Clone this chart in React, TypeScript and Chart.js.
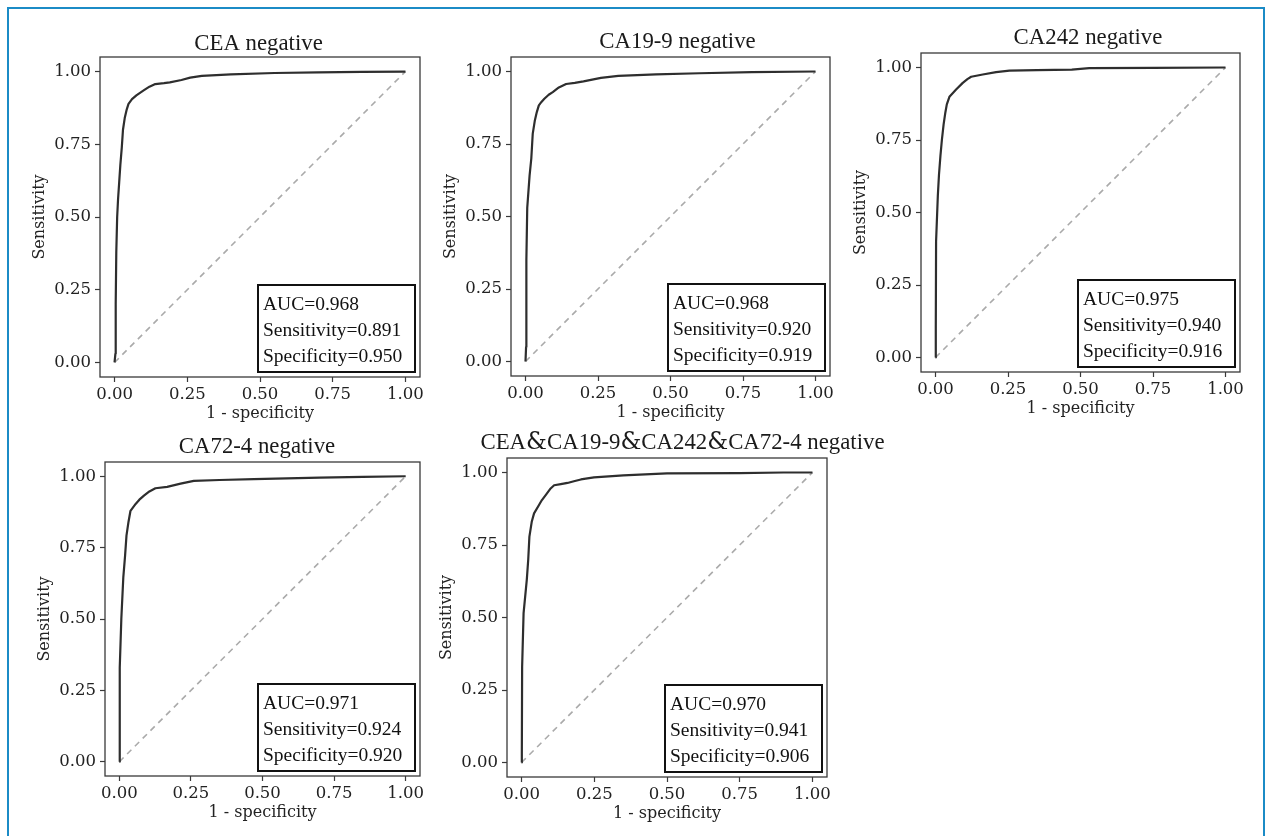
import React, { useEffect, useRef } from 'react';
import { Chart, registerables } from 'chart.js';

Chart.register(...registerables);

// ---------- data ----------
const tickValues = [0, 0.25, 0.5, 0.75, 1];
const titles = [
  'CEA negative',
  'CA19-9 negative',
  'CA242 negative',
  'CA72-4 negative',
  'CEA&CA19-9&CA242&CA72-4 negative',
];
const aucValues = [0.968, 0.968, 0.975, 0.971, 0.97];
const sensValues = [0.891, 0.92, 0.94, 0.924, 0.941];
const specValues = [0.95, 0.919, 0.916, 0.92, 0.906];

const ceaFpr = [0, 0.003, 0.004, 0.006, 0.009, 0.012, 0.016, 0.02, 0.025, 0.029, 0.035, 0.042, 0.048, 0.06, 0.075, 0.1, 0.12, 0.14, 0.17, 0.19, 0.23, 0.26, 0.3, 0.4, 0.55, 0.7, 0.85, 1];
const ceaTpr = [0, 0.03, 0.2, 0.38, 0.5, 0.56, 0.62, 0.68, 0.74, 0.8, 0.84, 0.87, 0.889, 0.905, 0.918, 0.935, 0.948, 0.957, 0.96, 0.963, 0.971, 0.979, 0.985, 0.99, 0.995, 0.997, 0.999, 1];

const ca199Fpr = [0, 0.002, 0.003, 0.006, 0.014, 0.02, 0.025, 0.032, 0.039, 0.046, 0.055, 0.065, 0.08, 0.094, 0.115, 0.14, 0.17, 0.2, 0.23, 0.26, 0.32, 0.45, 0.6, 0.78, 1];
const ca199Tpr = [0, 0.05, 0.35, 0.53, 0.64, 0.7, 0.786, 0.83, 0.86, 0.883, 0.895, 0.906, 0.92, 0.929, 0.945, 0.957, 0.961, 0.966, 0.972, 0.978, 0.985, 0.99, 0.994, 0.998, 1];

const ca242Fpr = [0, 0.001, 0.001, 0.002, 0.008, 0.012, 0.017, 0.022, 0.028, 0.034, 0.039, 0.048, 0.06, 0.071, 0.094, 0.11, 0.123, 0.163, 0.209, 0.255, 0.35, 0.47, 0.53, 0.75, 1];
const ca242Tpr = [0, 0.02, 0.1, 0.4, 0.557, 0.63, 0.695, 0.75, 0.804, 0.845, 0.873, 0.899, 0.912, 0.924, 0.947, 0.96, 0.968, 0.976, 0.984, 0.989, 0.991, 0.993, 0.998, 0.999, 1];

const ca724Fpr = [0, 0.001, 0.002, 0.007, 0.014, 0.02, 0.025, 0.032, 0.039, 0.057, 0.07, 0.086, 0.105, 0.126, 0.167, 0.214, 0.26, 0.35, 0.47, 0.7, 0.85, 1];
const ca724Tpr = [0, 0.03, 0.33, 0.5, 0.647, 0.72, 0.792, 0.84, 0.879, 0.903, 0.918, 0.932, 0.947, 0.958, 0.963, 0.974, 0.984, 0.987, 0.99, 0.995, 0.998, 1];

const allFpr = [0, 0.001, 0.002, 0.007, 0.018, 0.023, 0.027, 0.035, 0.043, 0.06, 0.07, 0.083, 0.1, 0.112, 0.135, 0.158, 0.18, 0.204, 0.249, 0.35, 0.5, 0.75, 0.9, 1];
const allTpr = [0, 0.03, 0.33, 0.515, 0.63, 0.7, 0.779, 0.83, 0.859, 0.888, 0.905, 0.922, 0.945, 0.956, 0.96, 0.964, 0.97, 0.976, 0.983, 0.99, 0.997, 0.998, 1, 1];

const diagonalFpr = [0, 1];
const diagonalTpr = [0, 1];

const seriesFpr = [ceaFpr, ca199Fpr, ca242Fpr, ca724Fpr, allFpr];
const seriesTpr = [ceaTpr, ca199Tpr, ca242Tpr, ca724Tpr, allTpr];

// ---------- layout (pixel boxes of each panel) ----------
const layouts = [
  { l: 100, t: 57, r: 420, b: 377, titleCx: 258.5, titleGap: 7.5 },
  { l: 511, t: 57, r: 830, b: 376, titleCx: 677.5, titleGap: 9 },
  { l: 921, t: 53, r: 1240, b: 372, titleCx: 1088, titleGap: 9.5 },
  { l: 105, t: 462, r: 420, b: 776, titleCx: 257, titleGap: 9.5 },
  { l: 507, t: 458, r: 827, b: 777, titleCx: 682.5, titleGap: 9.5 },
];

const PAD_L = 90;
const PAD_T = 45;
const PAD_R = 80;
const PAD_B = 55;

const TICK_FONT = { family: '"DejaVu Serif", serif', size: 16.5 };
const TEXT_COLOR = '#222222';

function drawTitle(ctx: CanvasRenderingContext2D, text: string, cx: number, baseline: number) {
  const mainFont = '22.8px "Liberation Serif", serif';
  const ampFont = '23.5px "DejaVu Serif", serif';
  const parts = text.split('&');
  const runs: { t: string; f: string }[] = [];
  parts.forEach((p, i) => {
    if (i > 0) runs.push({ t: '&', f: ampFont });
    if (p) runs.push({ t: p, f: mainFont });
  });
  let total = 0;
  const widths = runs.map((r) => {
    ctx.font = r.f;
    const w = ctx.measureText(r.t).width;
    total += w;
    return w;
  });
  let x = cx - total / 2;
  ctx.textAlign = 'left';
  ctx.textBaseline = 'alphabetic';
  ctx.fillStyle = '#1a1a1a';
  runs.forEach((r, i) => {
    ctx.font = r.f;
    ctx.fillText(r.t, x, baseline);
    x += widths[i];
  });
}

function RocPanel({ idx }: { idx: number }) {
  const ref = useRef<HTMLCanvasElement>(null);
  const lay = layouts[idx];
  const cl = lay.l - PAD_L;
  const ct = lay.t - PAD_T;
  const cw = lay.r + PAD_R - cl;
  const ch = lay.b + PAD_B - ct;

  useEffect(() => {
    if (!ref.current) return;
    const fpr = seriesFpr[idx];
    const tpr = seriesTpr[idx];
    const decor = {
      id: 'decor' + idx,
      afterDraw(chart: any) {
        const ctx: CanvasRenderingContext2D = chart.ctx;
        const a = chart.chartArea;
        ctx.save();
        // panel frame
        ctx.strokeStyle = '#3a3a3a';
        ctx.lineWidth = 1.3;
        ctx.strokeRect(a.left, a.top, a.right - a.left, a.bottom - a.top);

        // stats box
        const bw = 157;
        const bh = 87;
        const bx = a.right - 5 - bw;
        const by = a.bottom - 5 - bh;
        ctx.fillStyle = '#ffffff';
        ctx.fillRect(bx, by, bw, bh);
        ctx.strokeStyle = '#111111';
        ctx.lineWidth = 2;
        ctx.strokeRect(bx, by, bw, bh);
        ctx.font = '19.5px "Liberation Serif", serif';
        ctx.fillStyle = '#111111';
        ctx.textAlign = 'left';
        ctx.textBaseline = 'alphabetic';
        ctx.fillText('AUC=' + aucValues[idx].toFixed(3), bx + 5, by + 25);
        ctx.fillText('Sensitivity=' + sensValues[idx].toFixed(3), bx + 5, by + 51);
        ctx.fillText('Specificity=' + specValues[idx].toFixed(3), bx + 5, by + 77);

        // title
        drawTitle(ctx, titles[idx], lay.titleCx - cl, a.top - lay.titleGap);

        // axis titles
        ctx.fillStyle = TEXT_COLOR;
        ctx.font = '16px "DejaVu Serif", serif';
        ctx.textAlign = 'center';
        ctx.textBaseline = 'alphabetic';
        ctx.fillText('1 - specificity', (a.left + a.right) / 2, a.bottom + 41);

        ctx.translate(a.left - 56, (a.top + a.bottom) / 2);
        ctx.rotate(-Math.PI / 2);
        ctx.textBaseline = 'alphabetic';
        ctx.fillText('Sensitivity', 0, 0);
        ctx.restore();
      },
    };

    const chart = new Chart(ref.current, {
      type: 'scatter',
      data: {
        datasets: [
          {
            data: fpr.map((x, i) => ({ x, y: tpr[i] })),
            showLine: true,
            borderColor: '#2e2e2e',
            borderWidth: 2.2,
            pointRadius: 0,
            tension: 0,
            borderJoinStyle: 'round',
          },
          {
            data: diagonalFpr.map((x, i) => ({ x, y: diagonalTpr[i] })),
            showLine: true,
            borderColor: '#aaaaaa',
            borderWidth: 1.6,
            borderDash: [6, 5],
            pointRadius: 0,
          },
        ],
      },
      options: {
        animation: false,
        responsive: false,
        devicePixelRatio: 1,
        layout: { padding: { left: 0, top: PAD_T, right: PAD_R, bottom: 0 } },
        plugins: {
          legend: { display: false },
          tooltip: { enabled: false },
        },
        scales: {
          x: {
            type: 'linear',
            min: -0.05,
            max: 1.05,
            afterBuildTicks: (s: any) => {
              s.ticks = tickValues.map((v) => ({ value: v }));
            },
            afterFit: (s: any) => {
              s.height = PAD_B;
            },
            grid: {
              display: true,
              drawOnChartArea: false,
              drawTicks: true,
              tickLength: 5,
              tickWidth: 1.2,
              tickColor: '#3a3a3a',
            },
            border: { display: false },
            ticks: {
              callback: (v: any) => Number(v).toFixed(2),
              font: TICK_FONT,
              color: TEXT_COLOR,
              padding: 3,
              maxRotation: 0,
              autoSkip: false,
            },
          },
          y: {
            type: 'linear',
            min: -0.05,
            max: 1.05,
            afterBuildTicks: (s: any) => {
              s.ticks = tickValues.map((v) => ({ value: v }));
            },
            afterFit: (s: any) => {
              s.width = PAD_L;
            },
            grid: {
              display: true,
              drawOnChartArea: false,
              drawTicks: true,
              tickLength: 5,
              tickWidth: 1.2,
              tickColor: '#3a3a3a',
            },
            border: { display: false },
            ticks: {
              callback: (v: any) => Number(v).toFixed(2),
              font: TICK_FONT,
              color: TEXT_COLOR,
              padding: 4,
              autoSkip: false,
            },
          },
        },
      },
      plugins: [decor],
    } as any);
    return () => chart.destroy();
  }, [idx]);

  return (
    <canvas
      ref={ref}
      width={cw}
      height={ch}
      style={{ position: 'absolute', left: cl, top: ct, width: cw, height: ch }}
    />
  );
}

export default function App() {
  return (
    <div
      style={{
        position: 'absolute',
        left: 0,
        top: 0,
        width: 1268,
        height: 836,
        background: '#ffffff',
        overflow: 'hidden',
      }}
    >
      {layouts.map((_, i) => (
        <RocPanel key={i} idx={i} />
      ))}
      <div
        style={{
          position: 'absolute',
          left: 7,
          top: 7,
          width: 1258,
          height: 860,
          boxSizing: 'border-box',
          borderLeft: '2px solid #1b8bc6',
          borderTop: '2px solid #1b8bc6',
          borderRight: '2px solid #1b8bc6',
          pointerEvents: 'none',
        }}
      />
    </div>
  );
}
